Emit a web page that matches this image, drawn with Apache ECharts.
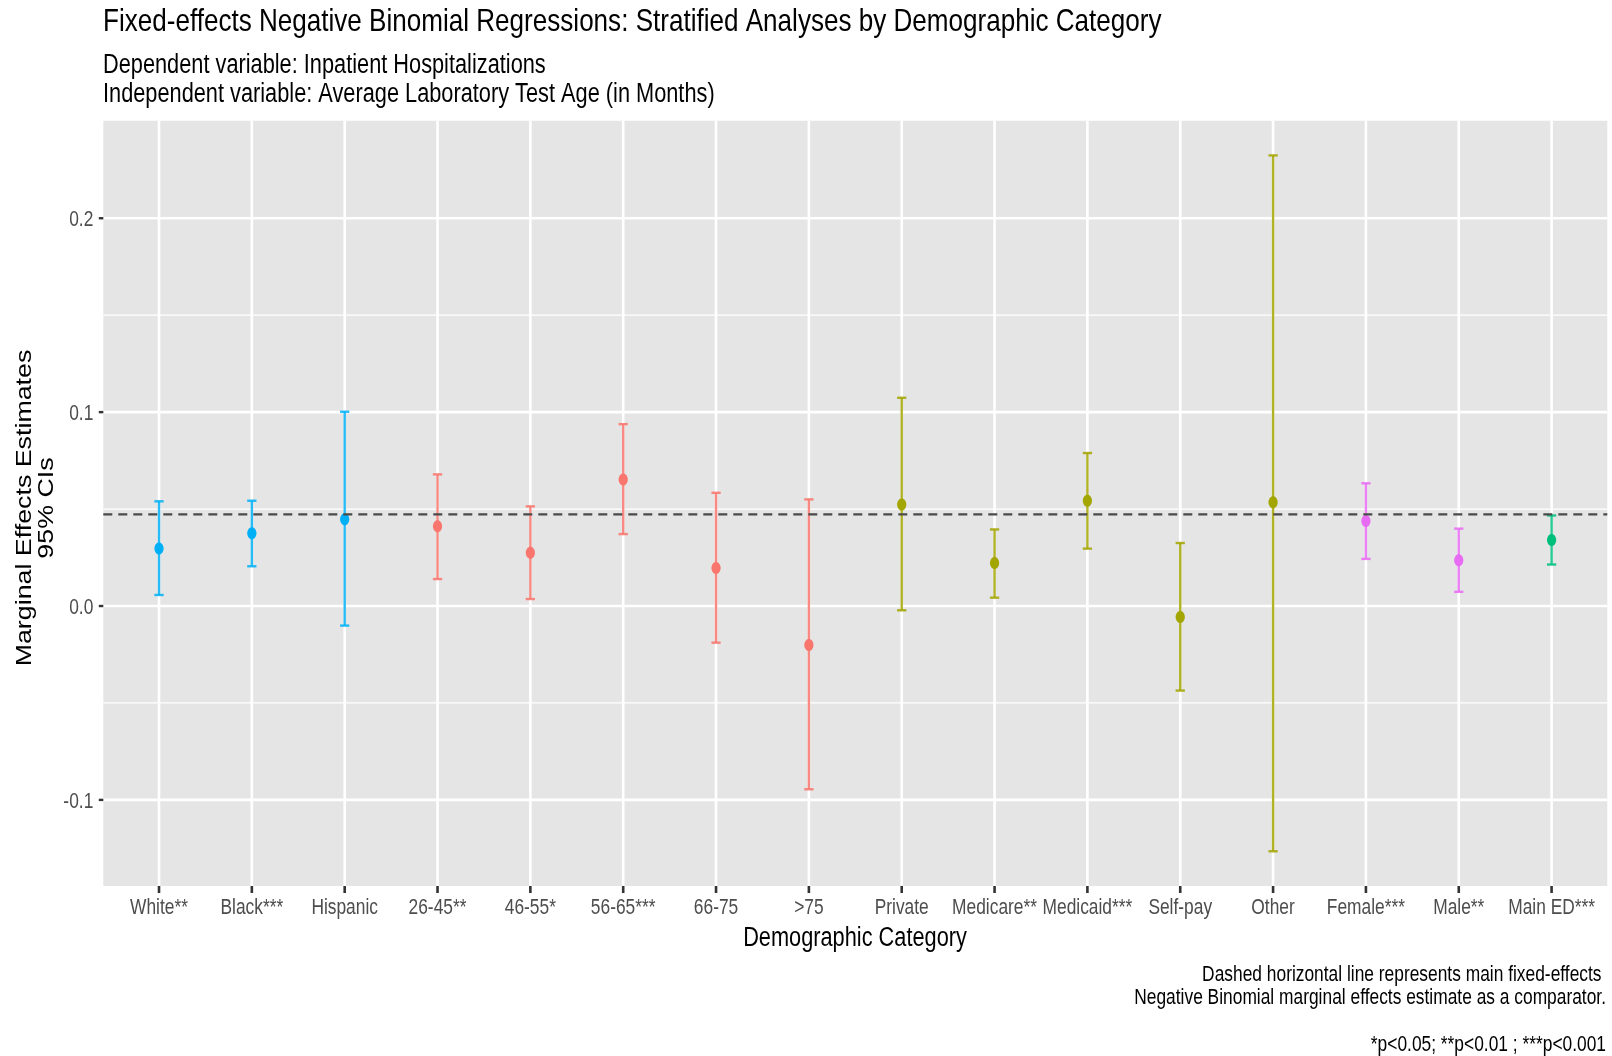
<!DOCTYPE html>
<html><head><meta charset="utf-8">
<script src="https://cdn.jsdelivr.net/npm/echarts@6/dist/echarts.min.js"></script>
<style>html,body{margin:0;padding:0;background:#fff}#c{width:1612px;height:1056px}</style>
</head><body><div id="c"></div>
<script>
const categories = ['White**','Black***','Hispanic','26-45**','46-55*','56-65***','66-75','>75','Private','Medicare**','Medicaid***','Self-pay','Other','Female***','Male**','Main ED***'];
const groups = ['race','race','race','age','age','age','age','age','ins','ins','ins','ins','ins','sex','sex','main'];
const estimates = [0.0297,0.0375,0.0447,0.0411,0.0275,0.0653,0.0196,-0.0201,0.0524,0.0222,0.0543,-0.0057,0.0535,0.0438,0.0236,0.0341];
const lower = [0.0057,0.0205,-0.0101,0.0139,0.0036,0.0371,-0.0189,-0.0945,-0.0022,0.0043,0.0296,-0.0436,-0.1265,0.0243,0.0073,0.0214];
const upper = [0.0540,0.0543,0.1002,0.0679,0.0514,0.0938,0.0584,0.0550,0.1074,0.0395,0.0789,0.0325,0.2324,0.0633,0.0399,0.0467];
const comparator = 0.0473;
const yTicks = [-0.1, 0, 0.1, 0.2];
const yTickLabels = ['-0.1', '0.0', '0.1', '0.2'];
const yMinor = [-0.05, 0.05, 0.15];
const groupColors = {race:'#00B0F6', age:'#F8766D', ins:'#A3A500', sex:'#E76BF3', main:'#00BF7D'};

const xPos = categories.map((c, i) => i + 1);
const X_MIN = 0.4, X_MAX = 16.6, Y_MIN = -0.1444, Y_MAX = 0.2503;
const chart = echarts.init(document.getElementById('c'), null, {renderer:'canvas'});
const SX = 0.812;
const DY = 2;
const F = "'Liberation Sans', Arial, Helvetica, sans-serif";
function txt(text, x, y, size, align, sx) {
  return {type:'text', x:x, y:y + DY, scaleX:sx || SX, silent:true,
    style:{text:text, font: size + 'px ' + F, fill:'#000', align:align || 'left', verticalAlign:'middle'}};
}
function hLine(v, api, style) {
  const a = api.coord([X_MIN, v]), b = api.coord([X_MAX, v]);
  return {type:'line', shape:{x1:a[0], y1:a[1], x2:b[0], y2:b[1]}, style:style};
}
const option = {
  animation:false,
  backgroundColor:'#fff',
  grid:{left:103.3, right:4.7, top:120.7, bottom:170, show:true, backgroundColor:'#E5E5E5', borderWidth:0, containLabel:false},
  xAxis:{type:'value', min:X_MIN, max:X_MAX,
    axisLine:{show:false, onZero:false},
    axisTick:{show:false},
    axisLabel:{show:false},
    splitLine:{show:false}},
  yAxis:{type:'value', min:Y_MIN, max:Y_MAX,
    axisLine:{show:false, onZero:false},
    axisTick:{show:false},
    axisLabel:{show:false},
    splitLine:{show:false}},
  graphic:[
    txt('Fixed-effects Negative Binomial Regressions: Stratified Analyses by Demographic Category', 103, 20.5, 31.6, 'left', 0.825),
    txt('Dependent variable: Inpatient Hospitalizations', 103, 64, 26.8),
    txt('Independent variable: Average Laboratory Test Age (in Months)', 103, 93, 26.8),
    txt('Demographic Category', 855, 936.5, 26.8, 'center'),
    {type:'text', x:25, y:508, rotation:Math.PI/2, scaleY:SX, silent:true,
      style:{text:'Marginal Effects Estimates', font:'26.8px '+F, fill:'#000', align:'center', verticalAlign:'middle'}},
    {type:'text', x:46.5, y:508, rotation:Math.PI/2, scaleY:SX, silent:true,
      style:{text:'95% CIs', font:'26.8px '+F, fill:'#000', align:'center', verticalAlign:'middle'}},
    txt('Dashed horizontal line represents main fixed-effects', 1601.5, 973.5, 21.4, 'right'),
    txt('Negative Binomial marginal effects estimate as a comparator.', 1606, 996, 21.4, 'right'),
    txt('*p<0.05; **p<0.01 ; ***p<0.001', 1606, 1043.5, 21.4, 'right')
  ],
  series:[
    // panel grid lines
    {type:'custom', z:1, silent:true, clip:false,
      data: yMinor.map(v=>[X_MIN, v, 1.3]).concat(yTicks.map(v=>[X_MIN, v, 2.6])),
      renderItem:(params, api)=> hLine(api.value(1), api, {stroke:'#FFFFFF', lineWidth:api.value(2)})},
    {type:'custom', z:1, silent:true, clip:false,
      data: xPos.map(v=>[v, Y_MIN]),
      renderItem:(params, api)=>{
        const a = api.coord([api.value(0), Y_MIN]), b = api.coord([api.value(0), Y_MAX]);
        return {type:'line', shape:{x1:a[0], y1:a[1], x2:b[0], y2:b[1]}, style:{stroke:'#FFFFFF', lineWidth:2.6}};
      }},
    // error bars and points
    {type:'custom', z:3, silent:true, clip:false,
      data: categories.map((c,i)=>[xPos[i], lower[i], upper[i], estimates[i]]),
      renderItem:(params, api)=>{
        const x = api.value(0), lo = api.value(1), hi = api.value(2), est = api.value(3);
        const color = groupColors[groups[params.dataIndex]];
        const pLo = api.coord([x, lo]), pHi = api.coord([x, hi]), pE = api.coord([x, est]);
        const l = api.coord([x-0.05, lo])[0], r = api.coord([x+0.05, lo])[0];
        const ls = {stroke:color, lineWidth:2.4, opacity:0.85};
        return {type:'group', children:[
          {type:'line', shape:{x1:pLo[0], y1:pLo[1], x2:pHi[0], y2:pHi[1]}, style:ls},
          {type:'line', shape:{x1:l, y1:pLo[1], x2:r, y2:pLo[1]}, style:ls},
          {type:'line', shape:{x1:l, y1:pHi[1], x2:r, y2:pHi[1]}, style:ls},
          {type:'ellipse', shape:{cx:pE[0], cy:pE[1], rx:4.6, ry:6}, style:{fill:color}}
        ]};
      }},
    // dashed comparator line
    {type:'custom', z:4, silent:true, clip:false,
      data:[[X_MIN, comparator]],
      renderItem:(params, api)=> hLine(api.value(1), api, {stroke:'#4A4A4A', lineWidth:2.2, lineDash:[9,6]})},
    // x ticks
    {type:'custom', z:6, silent:true, clip:false,
      data: xPos.map(v=>[v, Y_MIN]),
      renderItem:(params, api)=>{
        const p = api.coord([api.value(0), Y_MIN]);
        return {type:'rect', shape:{x:p[0] - 1.3, y:p[1], width:2.6, height:7}, style:{fill:'#333333'}};
      }},
    // y ticks
    {type:'custom', z:6, silent:true, clip:false,
      data: yTicks.map(v=>[X_MIN, v]),
      renderItem:(params, api)=>{
        const p = api.coord([X_MIN, api.value(1)]);
        return {type:'rect', shape:{x:p[0] - 4.5, y:p[1] - 1.2, width:4.5, height:2.4}, style:{fill:'#333333'}};
      }},
    // x tick labels
    {type:'custom', z:5, silent:true, clip:false,
      data: xPos.map(v=>[v, Y_MIN]),
      renderItem:(params, api)=>{
        const p = api.coord([api.value(0), Y_MIN]);
        return {type:'text', x:p[0], y:p[1] + 20.5 + DY, scaleX:SX,
          style:{text:categories[params.dataIndex], font:'21.4px '+F, fill:'#4D4D4D', align:'center', verticalAlign:'middle'}};
      }},
    // y tick labels
    {type:'custom', z:5, silent:true, clip:false,
      data: yTicks.map(v=>[X_MIN, v]),
      renderItem:(params, api)=>{
        const p = api.coord([X_MIN, api.value(1)]);
        return {type:'text', x:p[0] - 10, y:p[1] + 1.2 + DY * 0.5, scaleX:SX,
          style:{text:yTickLabels[params.dataIndex], font:'21.4px '+F, fill:'#4D4D4D', align:'right', verticalAlign:'middle'}};
      }}
  ]
};
chart.setOption(option);
</script>
</body></html>
